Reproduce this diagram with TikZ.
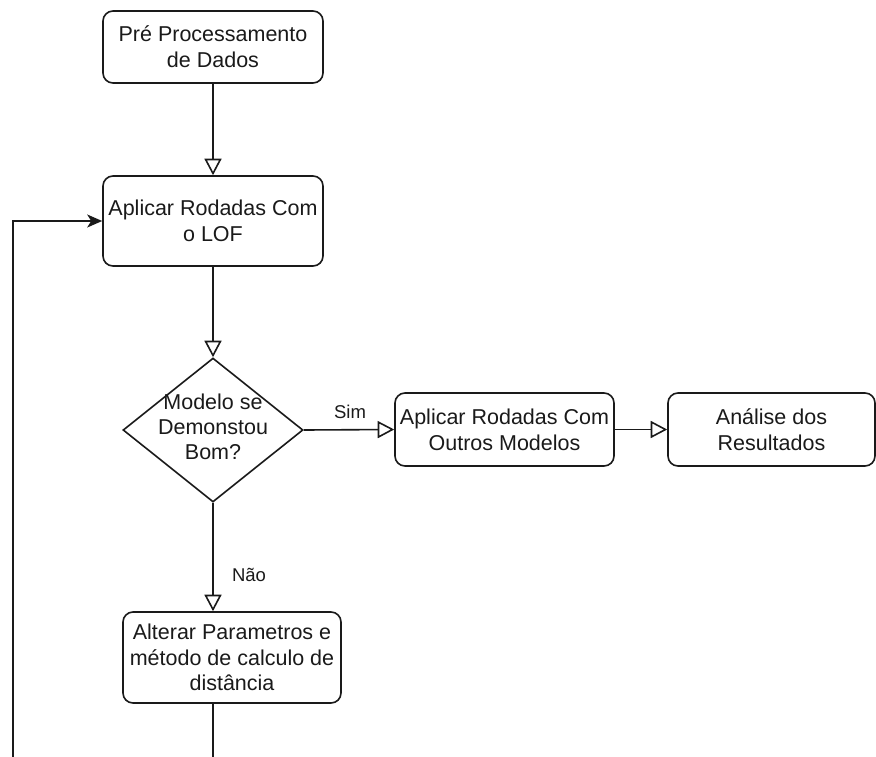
\documentclass[tikz,border=0pt]{standalone}
\usepackage{fontspec}
\setmainfont{Liberation Sans}
\usetikzlibrary{arrows.meta,shapes.geometric}
\definecolor{inkc}{HTML}{1A1A1A}
\tikzset{
  box/.style={draw=inkc, line width=1.6pt, rounded corners=10pt, fill=white,
    inner sep=0pt, align=center, text=inkc,
    font=\fontsize{21.5}{25.8}\selectfont},
  decision/.style={draw=inkc, line width=1.6pt, diamond, fill=white,
    inner sep=0pt, minimum width=180pt, minimum height=144pt},
  decisiontext/.style={align=center, text=inkc, inner sep=0pt,
    font=\fontsize{21.5}{25}\selectfont},
  flow/.style={draw=inkc, line width=1.6pt,
    -{Triangle[open, length=16.5pt, width=17pt, line width=1.6pt]}},
  loopflow/.style={draw=inkc, line width=1.6pt,
    -{Stealth[length=15pt, width=13pt, inset=4pt]}},
  edgelabel/.style={text=inkc, inner sep=0pt,
    font=\fontsize{18.5}{22}\selectfont}
}
\begin{document}
\begin{tikzpicture}[x=1pt, y=-1pt]
  \clip (0,0) rectangle (876,756);
  \fill[white] (0,0) rectangle (876,756);

  % process boxes
  \node[box, minimum width=220pt, minimum height=72pt] (pre) at (213,47)
    {Pré Processamento\\de Dados};
  \node[box, minimum width=220pt, minimum height=90pt] (lof) at (213,221)
    {Aplicar Rodadas Com\\o LOF};
  \node[decision] (dia) at (213,430) {};
  \node[decisiontext] (diatext) at (213,427) {Modelo se\\Demonstou\\Bom?};
  \node[box, minimum width=219pt, minimum height=73pt] (outros) at (504.5,429.5)
    {Aplicar Rodadas Com\\Outros Modelos};
  \node[box, minimum width=207pt, minimum height=73pt] (ana) at (771.5,429.5)
    {Análise dos\\Resultados};
  \node[box, minimum width=218pt, minimum height=91pt] (alt) at (232,657.5)
    {Alterar Parametros e\\método de calculo de\\distância};

  % connectors
  \draw[flow] (pre.south) -- (lof.north);
  \draw[flow] (lof.south) -- (dia.north);
  \draw[flow] (dia.east) -- (outros.west);
  \draw[flow] (outros.east) -- (ana.west);
  \draw[flow] (dia.south) -- (alt.north -| dia.south);

  % return loop back to the LOF step
  \coordinate (loopturn) at (13,800);
  \draw[loopflow] (alt.south -| dia.south) |- (loopturn) |- (lof.west);

  % branch labels
  \node[edgelabel] (sim) at (350,412) {Sim};
  \node[edgelabel] (nao) at (249,575) {Não};
\end{tikzpicture}
\end{document}
